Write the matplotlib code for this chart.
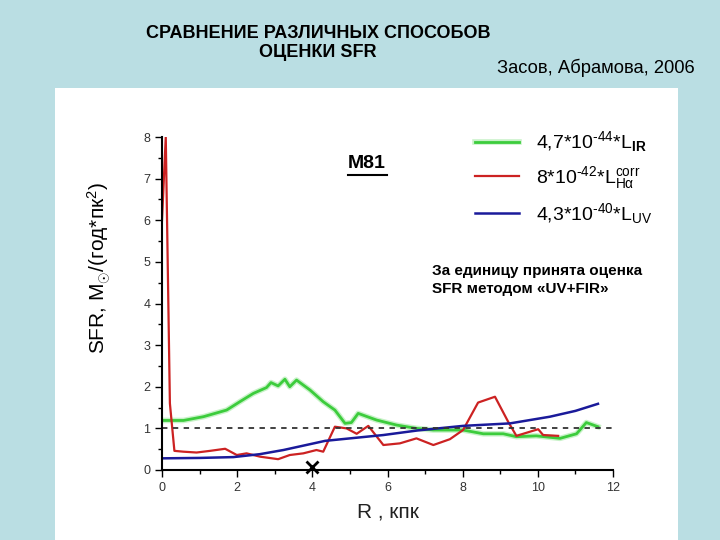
import numpy as np
import matplotlib.pyplot as plt
import matplotlib.patheffects as pe
from matplotlib.patches import Rectangle
from matplotlib.lines import Line2D

plt.rcParams['font.family'] = ['Liberation Sans', 'DejaVu Sans']
plt.rcParams['mathtext.fontset'] = 'custom'
plt.rcParams['mathtext.rm'] = 'Liberation Sans'
plt.rcParams['mathtext.it'] = 'Liberation Sans'
plt.rcParams['mathtext.bf'] = 'Liberation Sans:bold'

# SFR(R) for M81, normalised to UV+FIR estimate
r_ir = [0.0, 0.57, 1.10, 1.72, 2.07, 2.43, 2.78, 2.90, 3.09, 3.27, 3.40, 3.58, 3.94,
        4.29, 4.60, 4.87, 5.04, 5.22, 5.71, 6.24, 6.77, 7.22, 8.01, 8.55, 9.08,
        9.43, 9.96, 10.59, 11.03, 11.29, 11.60]
sfr_ir = [1.19, 1.19, 1.28, 1.44, 1.64, 1.84, 1.98, 2.10, 2.02, 2.18, 2.00, 2.16, 1.92,
          1.64, 1.44, 1.12, 1.14, 1.36, 1.20, 1.08, 1.00, 0.96, 0.96, 0.87, 0.87,
          0.80, 0.82, 0.76, 0.87, 1.14, 1.04]

r_ha = [0.0, 0.10, 0.21, 0.33, 0.57, 0.92, 1.28, 1.68, 1.99, 2.25, 2.61, 3.09, 3.40,
        3.76, 4.11, 4.29, 4.60, 4.91, 5.18, 5.49, 5.89, 6.33, 6.77, 7.22, 7.66,
        8.01, 8.41, 8.86, 9.21, 9.43, 9.79, 10.01, 10.14, 10.54]
sfr_ha = [6.0, 8.0, 1.6, 0.46, 0.44, 0.42, 0.46, 0.51, 0.36, 0.40, 0.32, 0.26, 0.36,
          0.40, 0.48, 0.44, 1.04, 1.00, 0.87, 1.06, 0.60, 0.64, 0.76, 0.60, 0.74,
          0.96, 1.62, 1.76, 1.16, 0.82, 0.92, 0.98, 0.84, 0.82]

r_uv = [0.0, 1.0, 1.90, 2.6, 3.23, 4.34, 5.89, 6.8, 8.01, 9.26, 10.32, 11.0, 11.60]
sfr_uv = [0.28, 0.29, 0.31, 0.38, 0.48, 0.70, 0.84, 0.95, 1.06, 1.12, 1.28, 1.42, 1.59]

labels = ["4,7*10$^{\\mathrm{\u2010 44}}$*L$_{\\mathbf{IR}}$",
          "8*10$^{\\mathrm{\u201042}}$*L$_{\\mathrm{H}\\alpha}^{\\mathrm{corr}}$",
          "4,3*10$^{\\mathrm{\u201040}}$*L$_{\\mathrm{UV}}$"]
colors = ['#3ccc3c', '#cc2222', '#1a1a9a']

fig = plt.figure(figsize=(7.2, 5.4), dpi=100)
fig.patch.set_facecolor('#badee3')
fig.patches.append(Rectangle((55 / 720, 0), 623 / 720, 1 - 88 / 540,
                             transform=fig.transFigure, facecolor='white',
                             edgecolor='none', zorder=-1))

ax = fig.add_axes([162 / 720, 1 - 470 / 540, 451 / 720, 333 / 540])
ax.set_facecolor('none')
ax.set_zorder(1)

l1, = ax.plot(r_ir, sfr_ir, color=colors[0], lw=2,
              path_effects=[pe.Stroke(linewidth=4, foreground='#c8f2c8'), pe.Normal()])
l2, = ax.plot(r_ha, sfr_ha, color=colors[1], lw=1.6)
l3, = ax.plot(r_uv, sfr_uv, color=colors[2], lw=1.8)
ax.axhline(1, color='#333333', lw=1.3, ls=(0, (3, 3)))
ax.plot([4], [0.07], marker='x', color='black', ms=9, mew=2, clip_on=False)

ax.set_xlim(0, 12)
ax.set_ylim(0, 8)
ax.set_xticks(range(0, 13, 2))
ax.set_xticks(range(0, 13, 1), minor=True)
ax.set_yticks(range(0, 9))
ax.set_yticks(np.arange(0, 8.1, 0.5), minor=True)
for s in ['top', 'right']:
    ax.spines[s].set_visible(False)
ax.spines['left'].set_linewidth(1.5)
ax.spines['bottom'].set_linewidth(1.5)
ax.tick_params(which='major', length=5, width=1, labelsize=9, labelcolor='#333333')
ax.tick_params(which='minor', length=3, width=1)

ax.set_xlabel("R , кпк", fontsize=15, color='#222222', labelpad=6)
ax.set_ylabel(r"SFR, M$_{\odot}$/(год*пк$^{2}$)", fontsize=15)
ax.yaxis.set_label_coords(-0.108, 0.607)

fig.text(367 / 720, 1 - 163 / 540, "M81", fontsize=14, weight='bold',
         ha='center', va='center')
fig.add_artist(Line2D([348 / 720, 387 / 720], [1 - 175 / 540, 1 - 175 / 540],
                      color='black', lw=1.5))

ax.legend([l1, l2, l3], labels, loc='upper left', frameon=False,
          bbox_to_anchor=(457 / 720, 1 - 112 / 540), bbox_transform=fig.transFigure,
          fontsize=14, handlelength=2.3, labelspacing=0.5, handletextpad=0.85)

fig.text(432 / 720, 1 - 280 / 540, "За единицу принята оценка\nSFR методом «UV+FIR»",
         fontsize=11, weight='bold', ha='left', va='center', linespacing=1.45)

fig.text(318 / 720, 1 - 43 / 540, "СРАВНЕНИЕ РАЗЛИЧНЫХ СПОСОБОВ\nОЦЕНКИ SFR",
         fontsize=13, weight='bold', ha='center', va='center', linespacing=1.2)
fig.text(497 / 720, 1 - 68 / 540, "Засов, Абрамова, 2006", fontsize=13.2,
         ha='left', va='center')

fig.savefig('out.png', dpi=100)
